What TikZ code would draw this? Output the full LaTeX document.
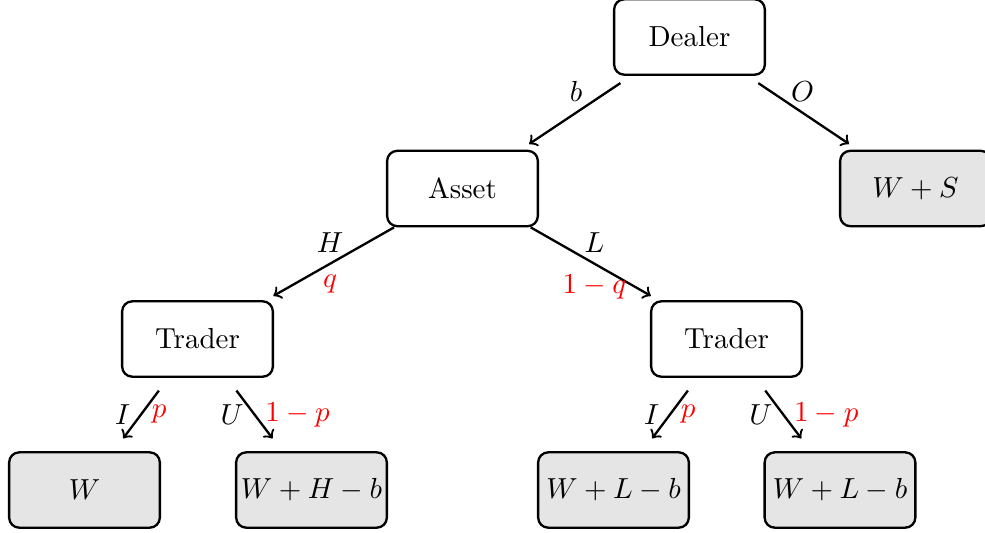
\documentclass[tikz,border=0pt]{standalone}
\begin{document}
\begin{tikzpicture}[x=0.345pt,y=-0.345pt,
  box/.style={draw, thick, rounded corners=3.5pt, minimum width=52pt, minimum height=26pt, inner sep=0pt},
  leaf/.style={box, fill=black!10},
  edge/.style={->, thick},
  prob/.style={text=red}]
\useasboundingbox (0,0) rectangle (985,533);
\node[box] (dealer) at (689.5,37) {Dealer};
\node[box] (asset) at (462.5,188.5) {Asset};
\node[leaf] (ws) at (915.5,188.5) {$W+S$};
\node[box] (tl) at (197.5,339) {Trader};
\node[box] (tr) at (726.5,339) {Trader};
\node[leaf] (w) at (84.5,490) {$W$};
\node[leaf] (whb) at (311.5,490) {$W+H-b$};
\node[leaf] (wlb1) at (613.5,490) {$W+L-b$};
\node[leaf] (wlb2) at (840,490) {$W+L-b$};
\draw[edge, shorten <=4.5pt, shorten >=3.5pt] (dealer) -- node[above] {$b$} (asset);
\draw[edge, shorten <=4.5pt, shorten >=3.5pt] (dealer) -- node[above] {$O$} (ws);
\draw[edge, shorten >=3pt] (asset) -- node[above] {$H$} node[below, prob] {$q$} (tl);
\draw[edge, shorten >=3pt] (asset) -- node[above] {$L$} node[below, prob] {$1-q$} (tr);
\draw[edge, shorten <=5.5pt, shorten >=5.5pt] (tl) -- node[left] {$I$} node[right, prob] {$p$} (w);
\draw[edge, shorten <=5.5pt, shorten >=5.5pt] (tl) -- node[left] {$U$} node[right, prob] {$1-p$} (whb);
\draw[edge, shorten <=5.5pt, shorten >=5.5pt] (tr) -- node[left] {$I$} node[right, prob] {$p$} (wlb1);
\draw[edge, shorten <=5.5pt, shorten >=5.5pt] (tr) -- node[left] {$U$} node[right, prob] {$1-p$} (wlb2);
\end{tikzpicture}
\end{document}
